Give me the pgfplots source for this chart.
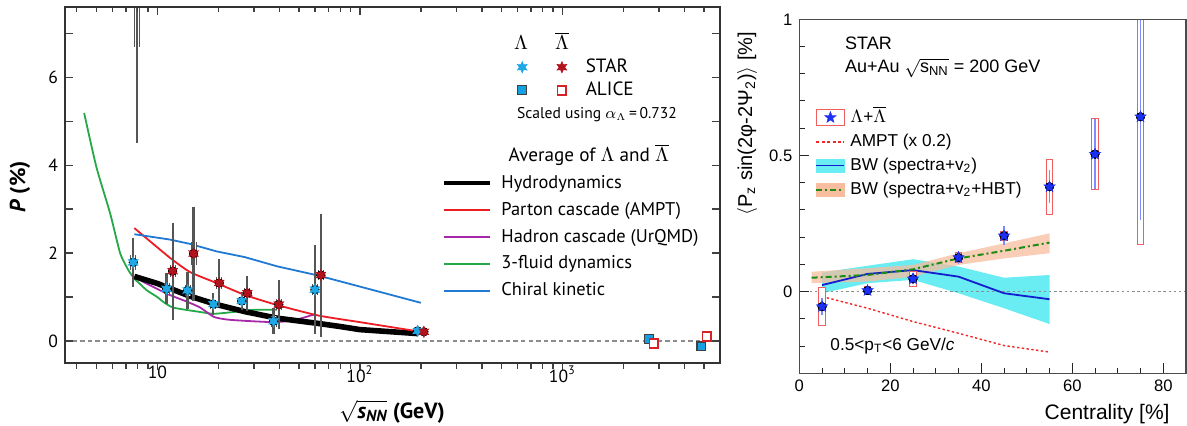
\documentclass[border=0pt]{standalone}
\usepackage{amsmath}
\usepackage{pgfplots}
\pgfplotsset{compat=1.18}
\usepackage{pgfplotstable}
\usepackage{fontspec}
\setmainfont{PT Sans}
\newfontfamily\rootfont{Liberation Sans}

\definecolor{lamcyan}{RGB}{30,168,230}
\definecolor{lamred}{RGB}{178,18,28}
\definecolor{errgray}{RGB}{85,85,85}
\definecolor{amptred}{RGB}{236,28,36}
\definecolor{urqmd}{RGB}{168,40,170}
\definecolor{threefluid}{RGB}{36,168,72}
\definecolor{chiral}{RGB}{32,122,212}
\definecolor{aliceblue}{RGB}{22,160,225}
\definecolor{alicered}{RGB}{215,35,40}
\definecolor{pzblue}{RGB}{28,48,245}
\definecolor{pzstat}{RGB}{125,140,255}
\definecolor{pzbox}{RGB}{240,95,95}
\definecolor{amptdot}{RGB}{242,40,40}
\definecolor{bwblue}{RGB}{20,30,205}
\definecolor{bwcyan}{RGB}{105,236,242}
\definecolor{bworange}{RGB}{248,188,158}
\definecolor{bwgreen}{RGB}{30,140,20}

% axis titles and labels
\newcommand{\snnlabel}{$\sqrt{\smash[b]{\mbox{\bfseries\itshape s}_{\mbox{\fontsize{8}{9}\selectfont\bfseries\itshape NN}}}}$ (GeV)}
\newcommand{\rootsnn}{$\sqrt{\mbox{s}_{\mbox{\fontsize{6.5}{7}\selectfont NN}}}$}
\newcommand{\pzlabel}{$\langle$P\textsubscript{z} sin(2φ-2Ψ\textsubscript{2})$\rangle$ [\%]}

% filled five-pointed star
\pgfdeclareplotmark{fivestar}{%
  \pgfpathmoveto{\pgfpointpolar{90}{\pgfplotmarksize}}%
  \pgfpathlineto{\pgfpointpolar{126}{0.42\pgfplotmarksize}}%
  \pgfpathlineto{\pgfpointpolar{162}{\pgfplotmarksize}}%
  \pgfpathlineto{\pgfpointpolar{198}{0.42\pgfplotmarksize}}%
  \pgfpathlineto{\pgfpointpolar{234}{\pgfplotmarksize}}%
  \pgfpathlineto{\pgfpointpolar{270}{0.42\pgfplotmarksize}}%
  \pgfpathlineto{\pgfpointpolar{306}{\pgfplotmarksize}}%
  \pgfpathlineto{\pgfpointpolar{342}{0.42\pgfplotmarksize}}%
  \pgfpathlineto{\pgfpointpolar{18}{\pgfplotmarksize}}%
  \pgfpathlineto{\pgfpointpolar{54}{0.42\pgfplotmarksize}}%
  \pgfpathclose
  \pgfusepathqfillstroke}
% filled six-pointed star
\pgfdeclareplotmark{sixstar}{%
  \pgfpathmoveto{\pgfpointpolar{90}{\pgfplotmarksize}}%
  \pgfpathlineto{\pgfpointpolar{120}{0.5\pgfplotmarksize}}%
  \pgfpathlineto{\pgfpointpolar{150}{\pgfplotmarksize}}%
  \pgfpathlineto{\pgfpointpolar{180}{0.5\pgfplotmarksize}}%
  \pgfpathlineto{\pgfpointpolar{210}{\pgfplotmarksize}}%
  \pgfpathlineto{\pgfpointpolar{240}{0.5\pgfplotmarksize}}%
  \pgfpathlineto{\pgfpointpolar{270}{\pgfplotmarksize}}%
  \pgfpathlineto{\pgfpointpolar{300}{0.5\pgfplotmarksize}}%
  \pgfpathlineto{\pgfpointpolar{330}{\pgfplotmarksize}}%
  \pgfpathlineto{\pgfpointpolar{0}{0.5\pgfplotmarksize}}%
  \pgfpathlineto{\pgfpointpolar{30}{\pgfplotmarksize}}%
  \pgfpathlineto{\pgfpointpolar{60}{0.5\pgfplotmarksize}}%
  \pgfpathclose
  \pgfusepathqfillstroke}

\pgfplotsset{
  sysout/.style={forget plot, only marks, mark=none, error bars/.cd, y dir=both, y explicit,
    error mark=none, error bar style={line width=3pt, draw=errgray}},
  sysin/.style={forget plot, only marks, mark=none, error bars/.cd, y dir=both, y explicit,
    error mark=none, error bar style={line width=2pt, draw=white}},
  statbar/.style={forget plot, only marks, mark=none, error bars/.cd, y dir=both, y explicit,
    error mark=none, error bar style={line width=1.1pt, draw=errgray}},
}

% global polarization of Lambda (STAR), value, stat. and syst. errors
\pgfplotstableread{
x     y     stat  sys
7.6   1.79  0.55  0.17
11.1  1.19  0.35  0.12
14.1  1.15  0.43  0.12
18.9  0.84  0.25  0.10
26.1  0.91  0.20  0.10
37.5  0.45  0.30  0.12
60    1.17  1.02  0.12
193   0.23  0.04  0.03
}\starL
% anti-Lambda (STAR)
\pgfplotstableread{
x     y     stat  sys
7.9   8.8   4.30  2.10
11.9  1.59  1.10  0.14
15.1  1.99  1.07  0.26
20.2  1.32  0.55  0.14
27.8  1.09  0.40  0.12
39.8  0.83  0.55  0.12
64.2  1.50  1.40  0.12
207   0.21  0.05  0.03
}\starLbar
\pgfplotstableread{
x     y
2670  0.05
4850  -0.12
}\aliceL
\pgfplotstableread{
x     y
2830  -0.06
5170  0.11
}\aliceLbar
% longitudinal polarization vs centrality
\pgfplotstableread{
x   y      stat   sys
5   -0.055 0.030  0.070
15  0.004  0.012  0.015
25  0.047  0.020  0.028
35  0.125  0.025  0.018
45  0.205  0.035  0.016
55  0.385  0.060  0.100
65  0.505  0.130  0.130
75  0.642  0.380  0.470
}\pzdata

\begin{document}
\begin{tikzpicture}
\useasboundingbox (0pt,0pt) rectangle (593.5pt,212.5pt);

% ---------------- left panel ----------------
\begin{axis}[
  at={(32.5pt,31pt)}, anchor=south west, scale only axis,
  width=327.5pt, height=178pt,
  xmode=log, xmin=3.5, xmax=6000, ymin=-0.5, ymax=7.6,
  axis on top,
  axis line style={line width=0.8pt, draw=black!80},
  tick style={line width=0.7pt, black!75},
  major tick length=4pt, minor tick length=2.5pt,
  tick align=inside,
  xtick={10,100,1000}, xticklabels={}, xtick pos=right,
  minor xtick={4,5,6,7,8,9,20,30,40,50,60,70,80,90,200,300,400,500,600,700,800,900,2000,3000,4000,5000},
  ytick={0,1,...,7}, yticklabels={0,,2,,4,,6,}, ytick pos=both,
  yticklabel style={font=\fontsize{8.8}{10}\selectfont},
]
\addplot[forget plot, black!45, line width=0.6pt, dash pattern=on 2.2pt off 1.6pt] coordinates {(3.5,0) (6000,0)};
% model calculations
\addplot[forget plot, threefluid, line width=0.9pt, smooth, tension=0.35] coordinates {
  (4.35,5.19) (5.0,3.96) (5.85,2.9) (6.55,2.0) (7.2,1.61) (7.7,1.42) (8.2,1.30)
  (8.9,1.15) (10,1.0) (10.7,0.89) (12,0.76) (16.3,0.66) (19,0.62) (23.7,0.66) (30,0.71) (39,0.71)};
\addplot[forget plot, urqmd, line width=0.9pt, smooth, tension=0.35] coordinates {
  (7.7,1.45) (11.1,1.08) (14.1,0.89) (16.3,0.76) (19,0.55) (22,0.49) (27,0.46)
  (37.5,0.43) (47,0.47) (60,0.61)};
\addplot[forget plot, black, line width=2.8pt, line join=round] coordinates {
  (7.7,1.47) (10,1.31) (11.5,1.2) (14.5,1.02) (19.6,0.83) (27,0.67) (39,0.52)
  (62.4,0.40) (80,0.33) (100,0.26) (193,0.17)};
\addplot[forget plot, amptred, line width=0.9pt, smooth, tension=0.35] coordinates {
  (7.7,2.57) (11.5,1.9) (14.5,1.57) (19.6,1.32) (27,1.05) (39,0.82) (62.4,0.58)
  (100,0.43) (200,0.21)};
\addplot[forget plot, chiral, line width=0.9pt] coordinates {
  (7.7,2.43) (11.5,2.31) (14.5,2.21) (19.6,2.04) (27,1.91) (39,1.70) (62.4,1.49) (200,0.87)};
% systematic brackets and statistical bars
\addplot[sysout] table[x=x, y=y, y error=sys] {\starL};
\addplot[sysin] table[x=x, y=y, y error=sys] {\starL};
\addplot[statbar] table[x=x, y=y, y error=stat] {\starL};
\addplot[sysout] table[x=x, y=y, y error=sys] {\starLbar};
\addplot[sysin] table[x=x, y=y, y error=sys] {\starLbar};
\addplot[statbar] table[x=x, y=y, y error=stat] {\starLbar};
\addplot[forget plot, only marks, mark=sixstar, mark size=2.8pt, fill=lamcyan, draw=lamcyan, line width=0.3pt]
  table[x=x, y=y] {\starL};
\addplot[forget plot, only marks, mark=sixstar, mark size=2.8pt, fill=lamred, draw=lamred, line width=0.3pt]
  table[x=x, y=y] {\starLbar};
\addplot[forget plot, only marks, mark=square*, mark size=2.2pt, fill=aliceblue, draw=black!75, line width=0.6pt]
  table[x=x, y=y] {\aliceL};
\addplot[forget plot, only marks, mark=square*, mark size=2.2pt, fill=white, draw=alicered, line width=0.9pt]
  table[x=x, y=y] {\aliceLbar};
\end{axis}

% bottom ticks, tick labels and the model legend
\begin{axis}[
  at={(32.5pt,31pt)}, anchor=south west, scale only axis,
  width=327.5pt, height=178pt,
  xmode=log, xmin=3.5, xmax=6000, ymin=0, ymax=1,
  hide y axis, axis x line*=bottom,
  axis line style={line width=0.8pt, draw=black!80},
  tick style={line width=0.7pt, black!75},
  major tick length=3.5pt, minor tick length=3pt,
  xtick align=outside,
  xtick={10,100,1000}, xticklabels={10,10\textsuperscript{2},10\textsuperscript{3}},
  minor xtick={4,5,6,7,8,9,20,30,40,50,60,70,80,90,200,300,400,500,600,700,800,900,2000,3000,4000,5000},
  xticklabel style={font=\fontsize{8.8}{10}\selectfont, yshift=5.5pt},
  legend style={at={(0.5756,0.5337)}, anchor=north west, draw=none, fill=none,
    inner sep=0pt, row sep=3.4pt, font=\fontsize{9.2}{10}\selectfont,
    nodes={inner sep=0.5pt, text height=7pt, text depth=2pt},
    /tikz/every odd column/.append style={column sep=4pt}},
  legend cell align=left,
  legend image code/.code={\draw[#1] (0pt,0pt) -- (23pt,0pt);},
]
\addlegendimage{black, line width=2pt}
\addlegendentry{Hydrodynamics}
\addlegendimage{amptred, line width=0.9pt}
\addlegendentry{Parton cascade (AMPT)}
\addlegendimage{urqmd, line width=0.9pt}
\addlegendentry{Hadron cascade (UrQMD)}
\addlegendimage{threefluid, line width=0.9pt}
\addlegendentry{3-fluid dynamics}
\addlegendimage{chiral, line width=0.9pt}
\addlegendentry{Chiral kinetic}
\end{axis}

% experiment legend
\begin{axis}[
  at={(32.5pt,31pt)}, anchor=south west, scale only axis,
  width=327.5pt, height=178pt,
  xmin=0, xmax=1, ymin=0, ymax=1, hide axis,
  legend columns=2,
  legend style={at={(0.690,0.860)}, anchor=north west, draw=none, fill=none,
    inner sep=0pt, row sep=1.5pt, font=\fontsize{9.6}{10}\selectfont,
    nodes={inner sep=0.5pt, text height=7pt, text depth=2pt},
    /tikz/every odd column/.append style={column sep=6.5pt},
    /tikz/every even column/.append style={column sep=7.5pt}},
  legend cell align=left,
  legend image code/.code={\draw[#1] plot coordinates {(0pt,0pt)};},
]
\addlegendimage{only marks, mark=sixstar, mark size=2.8pt, fill=lamcyan, draw=lamcyan, line width=0.3pt}
\addlegendentry{}
\addlegendimage{only marks, mark=sixstar, mark size=2.8pt, fill=lamred, draw=lamred, line width=0.3pt}
\addlegendentry{\hspace{2.5pt}STAR}
\addlegendimage{only marks, mark=square*, mark size=2.2pt, fill=aliceblue, draw=black!75, line width=0.6pt}
\addlegendentry{}
\addlegendimage{only marks, mark=square*, mark size=2.2pt, fill=white, draw=alicered, line width=0.9pt}
\addlegendentry{\hspace{2.5pt}ALICE}
\end{axis}

\node[anchor=base, font=\fontsize{9.6}{11}\selectfont] at (260.5pt,187.8pt) {$\Lambda$};
\node[anchor=base, font=\fontsize{9.6}{11}\selectfont] at (281pt,187.8pt) {$\overline{\Lambda}$};
\node[anchor=base west, font=\fontsize{7.8}{10}\selectfont] at (255pt,153.3pt) {Scaled using $\alpha_\Lambda$\,=\,0.732};
\node[anchor=base west, font=\fontsize{9.6}{11}\selectfont] at (250.8pt,131.7pt) {Average of $\Lambda$ and $\overline{\Lambda}$};
\node[rotate=90, font=\bfseries\fontsize{11}{13}\selectfont] at (10pt,119pt) {\textit{P} (\%)};
\node[anchor=base, font=\bfseries\fontsize{11}{13}\selectfont] at (196pt,3.4pt) {\snnlabel};

% ---------------- right panel ----------------
\begin{axis}[
  at={(399.65pt,25.85pt)}, anchor=south west, scale only axis,
  width=193.35pt, height=177pt,
  xmin=0, xmax=85, ymin=-0.3, ymax=1.0,
  axis on top,
  axis line style={line width=0.6pt, draw=black!70},
  tick style={line width=0.5pt, black!85},
  tick align=inside, tick pos=left,
  xtick={0,20,40,60,80},
  minor xtick={5,10,15,25,30,35,45,50,55,65,70,75},
  ytick={0,0.5,1},
  minor ytick={-0.2,-0.1,0.1,0.2,0.3,0.4,0.6,0.7,0.8,0.9},
  major tick length=5pt, minor tick length=2.6pt,
  ticklabel style={font=\rootfont\fontsize{8.3}{10}\selectfont},
  /pgf/number format/assume math mode=true,
  legend style={at={(0.0406,0.752)}, anchor=north west, draw=none, fill=none,
    inner sep=0pt, row sep=2pt, font=\rootfont\fontsize{8.6}{10}\selectfont,
    nodes={inner sep=0.5pt, text height=7pt, text depth=2pt},
    /tikz/every odd column/.append style={column sep=2pt}},
  legend cell align=left,
]
\addlegendimage{legend image code/.code={
  \draw[pzbox, line width=0.5pt] (0pt,-4.2pt) rectangle (14pt,4.2pt);
  \draw[only marks, mark=fivestar, mark size=3pt, fill=pzblue, draw=pzblue, line width=0.2pt] plot coordinates {(7pt,0pt)};}}
\addlegendentry{$\Lambda$+$\overline{\Lambda}$}
\addlegendimage{legend image code/.code={
  \draw[amptdot, line width=1pt, dash pattern=on 1.5pt off 1.2pt] (0pt,0pt) -- (14pt,0pt);}}
\addlegendentry{AMPT (x 0.2)}
\addlegendimage{legend image code/.code={
  \fill[bwcyan] (0pt,-3.2pt) rectangle (14pt,3.2pt);
  \draw[bwblue, line width=0.9pt] (0pt,0pt) -- (14pt,0pt);}}
\addlegendentry{BW (spectra+v\textsubscript{2})}
\addlegendimage{legend image code/.code={
  \fill[bworange] (0pt,-3.2pt) rectangle (14pt,3.2pt);
  \draw[bwgreen, line width=1pt, dash pattern=on 3pt off 1.5pt on 1pt off 1.5pt] (0pt,0pt) -- (14pt,0pt);}}
\addlegendentry{BW (spectra+v\textsubscript{2}+HBT)}

% blast-wave bands (upper edge, then lower edge backwards)
\addplot[forget plot, fill=bwcyan, draw=none] coordinates {
  (5,0.070) (15,0.095) (25,0.119) (35,0.092) (45,0.051) (55,0.061)
  (55,-0.119) (45,-0.061) (35,-0.006) (25,0.043) (15,0.031) (5,-0.006)} -- cycle;
\addplot[forget plot, fill=bworange, fill opacity=0.75, draw=none] coordinates {
  (2.7,0.073) (15,0.086) (25,0.098) (35,0.141) (45,0.177) (55,0.214)
  (55,0.141) (45,0.122) (35,0.098) (25,0.055) (15,0.037) (2.7,0.031)} -- cycle;
\addplot[forget plot, black!45, line width=0.6pt, dash pattern=on 1.2pt off 1.4pt] coordinates {(0,0) (85,0)};
% model curves
\addplot[forget plot, amptdot, line width=0.7pt, dash pattern=on 1.2pt off 1.2pt] coordinates {
  (5,-0.018) (15,-0.061) (25,-0.110) (35,-0.153) (45,-0.198) (55,-0.222)};
\addplot[forget plot, bwblue, line width=0.9pt] coordinates {
  (5,0.024) (15,0.065) (25,0.079) (35,0.055) (45,-0.006) (55,-0.028)};
\addplot[forget plot, bwgreen, line width=1pt, dash pattern=on 3pt off 1.5pt on 1pt off 1.5pt] coordinates {
  (2.7,0.051) (15,0.061) (25,0.082) (35,0.122) (45,0.150) (55,0.180)};
% data: systematic boxes (sides, white inside, top and bottom), statistical bars, points
\addplot[forget plot, only marks, mark=none, error bars/.cd, y dir=both, y explicit,
  error mark=none, error bar style={line width=3.6pt, draw=pzbox}]
  table[x=x, y=y, y error=sys] {\pzdata};
\addplot[forget plot, only marks, mark=none, error bars/.cd, y dir=both, y explicit,
  error mark=none, error bar style={line width=2.6pt, draw=white}]
  table[x=x, y=y, y error=sys] {\pzdata};
\addplot[forget plot, only marks, mark=none, error bars/.cd, y dir=both, y explicit,
  error mark=-, error bar style={draw opacity=0},
  error mark options={rotate=90, draw=pzbox, draw opacity=1, line width=0.5pt, mark size=1.8pt}]
  table[x=x, y=y, y error=sys] {\pzdata};
\addplot[forget plot, only marks, mark=none, error bars/.cd, y dir=both, y explicit,
  error mark=none, error bar style={line width=0.7pt, draw=pzstat}]
  table[x=x, y=y, y error=stat] {\pzdata};
\addplot[forget plot, only marks, mark=fivestar, mark size=3pt, fill=pzblue, draw=pzblue, line width=0.2pt]
  table[x=x, y=y] {\pzdata};
\end{axis}

\node[anchor=base west, font=\rootfont\fontsize{9}{11}\selectfont] at (419pt,187.8pt) {STAR};
\node[anchor=base west, font=\rootfont\fontsize{9}{11}\selectfont] at (419pt,176.2pt) {Au+Au \rootsnn\ = 200 GeV};
\node[anchor=base west, font=\rootfont\fontsize{8.6}{10}\selectfont] at (411.7pt,37.2pt) {0.5<p\textsubscript{T}<6 GeV/\textit{c}};
\node[rotate=90, anchor=east, font=\rootfont\fontsize{10}{12}\selectfont] at (373.5pt,200pt) {\pzlabel};
\node[anchor=base east, font=\rootfont\fontsize{10.5}{12}\selectfont] at (588.3pt,2.8pt) {Centrality [\%]};
\end{tikzpicture}
\end{document}
